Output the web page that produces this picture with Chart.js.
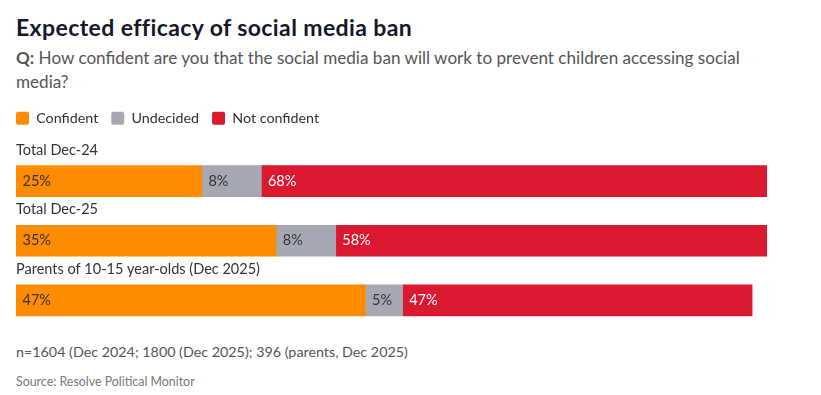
<!DOCTYPE html>
<html>
<head>
<meta charset="utf-8">
<script src="https://cdn.jsdelivr.net/npm/chart.js@4.4.1/dist/chart.umd.min.js"></script>
<style>
  body { margin: 0; background: #fff; font-family: Lato, "Liberation Sans", sans-serif; }
  #wrap { position: relative; width: 821px; height: 395px; overflow: hidden; }
  h1 { position: absolute; left: 16px; top: 12px; margin: 0; font-size: 23px; line-height: 30px;
       letter-spacing: 0.4px; color: #15172b; font-weight: 700; white-space: nowrap; }
  .sub { position: absolute; left: 16px; top: 46px; margin: 0; font-size: 17.1px; line-height: 24px;
         color: #555; white-space: nowrap; }
  #box { position: absolute; left: 0; top: 98px; width: 821px; height: 242px; }
  .note { position: absolute; left: 16px; top: 342px; font-size: 14.3px; line-height: 20px; color: #555; }
  .src { position: absolute; left: 16px; top: 373px; font-size: 12.4px; line-height: 18px; color: #777; }
</style>
</head>
<body>
<div id="wrap">
  <h1>Expected efficacy of social media ban</h1>
  <p class="sub"><b>Q:</b> How confident are you that the social media ban will work to prevent children accessing social<br>media?</p>
  <div id="box"><canvas id="chart"></canvas></div>
  <div class="note">n=1604 (Dec 2024; 1800 (Dec 2025); 396 (parents, Dec 2025)</div>
  <div class="src">Source: Resolve Political Monitor</div>
</div>
<script>
  // values (percent)
  const categories = ['Total Dec-24', 'Total Dec-25', 'Parents of 10-15 year-olds (Dec 2025)'];
  const seriesNames = ['Confident', 'Undecided', 'Not confident'];
  const confident = [25, 35, 47];
  const undecided = [8, 8, 5];
  const notConfident = [68, 58, 47];

  const COLORS = ['#ff8c00', '#a6a9b4', '#da1931'];
  const LABEL_COLORS = ['#333333', '#333333', '#ffffff'];
  const FONT = 'Lato, "Liberation Sans", sans-serif';

  // extra room between the legend and the first bar
  const legendGap = {
    id: 'legendGap',
    beforeInit(chart) {
      const fit = chart.legend.fit;
      chart.legend.fit = function () {
        fit.bind(chart.legend)();
        this.height += 16;
      };
    },
  };

  // percent labels just inside the left edge of each segment
  const barLabels = {
    id: 'barLabels',
    afterDatasetsDraw(chart) {
      const ctx = chart.ctx;
      ctx.save();
      ctx.font = '14.5px ' + FONT;
      ctx.textBaseline = 'middle';
      ctx.textAlign = 'left';
      chart.data.datasets.forEach((ds, i) => {
        chart.getDatasetMeta(i).data.forEach((bar, j) => {
          ctx.fillStyle = LABEL_COLORS[i];
          ctx.fillText(ds.data[j] + '%', Math.min(bar.base, bar.x) + 6.5, bar.y);
        });
      });
      ctx.restore();
    },
  };

  new Chart(document.getElementById('chart'), {
    type: 'bar',
    data: {
      labels: categories,
      datasets: [confident, undecided, notConfident].map((d, i) => ({
        label: seriesNames[i], data: d, backgroundColor: COLORS[i],
        barThickness: 31, borderWidth: 0,
      })),
    },
    options: {
      indexAxis: 'y',
      responsive: true, maintainAspectRatio: false, animation: false,
      layout: { padding: { left: 3, right: 54, top: 0, bottom: 9.75 } },
      plugins: {
        legend: {
          display: true, position: 'top', align: 'start',
          labels: {
            boxWidth: 13, boxHeight: 13, padding: 13, color: '#333',
            useBorderRadius: true, borderRadius: 2,
            font: { size: 14.3, family: FONT },
          },
        },
        tooltip: { enabled: false },
      },
      scales: {
        x: { stacked: true, display: false, min: 0, max: 101 },
        y: {
          stacked: true,
          grid: { display: false }, border: { display: false },
          ticks: { mirror: true, padding: 0, labelOffset: -31, color: '#333',
                   font: { size: 14.5, family: FONT } },
          afterFit: (s) => { s.width = 13; },
        },
      },
    },
    plugins: [legendGap, barLabels],
  });
</script>
</body>
</html>
